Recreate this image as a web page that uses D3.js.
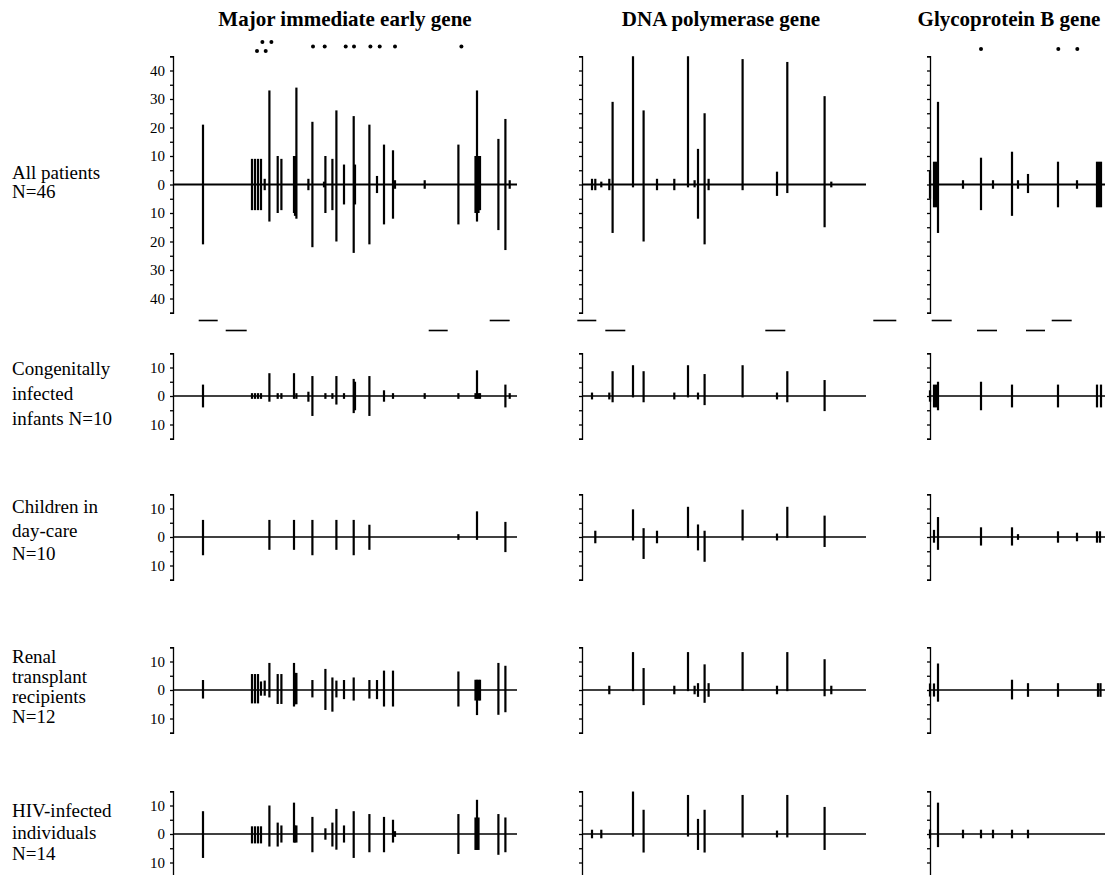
<!DOCTYPE html>
<html>
<head>
<meta charset="utf-8">
<script src="https://cdn.jsdelivr.net/npm/d3@7"></script>
<style>
  body { margin: 0; background: #fff; }
  svg { display: block; }
  text { font-family: 'Liberation Serif', 'Times New Roman', serif; fill: #000; }
  .axis path, .axis line { stroke: #000; stroke-width: 1.3px; }
  .axis text { font-family: 'Liberation Serif', serif; font-size: 15px; }
</style>
</head>
<body>
<div id="chart"></div>
<script>
/* eslint-disable */

// genes and groups
var geneNames = ['Major immediate early gene', 'DNA polymerase gene', 'Glycoprotein B gene']
var geneSpan = [344, 284, 175] // sequenced stretch, position units
var groupNames = [
  ['All patients', 'N=46'],
  ['Congenitally', 'infected', 'infants N=10'],
  ['Children in', 'day-care', 'N=10'],
  ['Renal', 'transplant', 'recipients', 'N=12'],
  ['HIV-infected', 'individuals', 'N=14']
]
var groupRange = [45, 15, 15, 15, 15]

// [position, count above, count below]
var mieAll = [[30, 21, 21], [79, 9, 9], [82, 9, 9], [85, 9, 9], [88, 9, 9], [91.7, 2, 2], [96.4, 33, 13],
  [104.7, 10, 10], [108.4, 9, 9], [121, 10, 10], [122, 10, 11], [123.4, 34, 12], [135.4, 2, 2], [139.4, 22, 22],
  [151, 1, 1], [152.4, 10, 10], [159.4, 9, 9], [163.4, 26, 20], [171, 7, 7], [180.7, 24, 24], [182, 7, 7],
  [196.4, 21, 21], [204, 3, 3], [211, 14, 14], [220, 12, 12], [222, 1.5, 1.5], [251.7, 1.5, 1.5], [285.4, 14, 14],
  [302.5, 10, 10], [304, 33, 13], [305.5, 10, 10], [307, 10, 9], [325.4, 16, 16], [332.4, 23, 23], [336.7, 1.5, 1.5]]
var mieCong = [[30, 4, 4], [79, 1, 1], [82, 1, 1], [85, 1, 1], [88, 1, 1], [96.4, 8, 2], [104.7, 1, 1], [108.4, 1, 1],
  [121, 8, 1], [123.4, 1, 1], [135.4, 1.5, 2], [139.4, 7, 7], [152.4, 1, 1], [159.4, 1, 1], [163.4, 7, 3], [171, 1, 1],
  [180.7, 6, 6], [182, 5, 5], [196.4, 7, 7], [211, 2, 2], [220, 1, 1], [251.7, 1, 1], [285.4, 1, 1], [302.5, 1, 1],
  [304, 9, 1], [305.5, 1, 1], [307, 1, 1], [332.4, 4, 4], [336.7, 1, 1]]
var mieDay = [[30, 6, 6.4], [96.4, 6, 4.5], [121, 6, 4.5], [139.4, 6, 6.4], [163.4, 6, 4.5], [180.7, 6, 6.4],
  [196.4, 4.3, 4.5], [285.4, 1, 1], [304, 9, 1], [332.4, 5.3, 5.3]]
var mieRenal = [[30, 3.5, 3], [79, 5.6, 4.7], [82, 5.6, 4.7], [85, 5.6, 4.7], [88, 3, 2], [91.7, 3.3, 2], [96.4, 9.5, 2.6],
  [104.7, 5.6, 4.9], [108.4, 5.6, 4.9], [121, 9.5, 5.8], [122, 6, 5], [123.4, 6, 5], [139.4, 3.5, 2.6], [152.4, 7.4, 7],
  [159.4, 4.4, 7.6], [163.4, 3.3, 2.6], [171, 3.5, 3.2], [180.7, 4.4, 3.7], [196.4, 3.5, 3], [204, 3.5, 3.2],
  [211, 6.8, 5.8], [220, 6.8, 5.8], [285.4, 6.5, 5.8], [302.5, 3.6, 3.7], [304, 3.6, 8.8], [305.5, 3.6, 3.7],
  [307, 3.6, 3.7], [325.4, 9.5, 8.7], [332.4, 8.5, 7.8]]
var mieHiv = [[30, 8, 8.4], [79, 2.7, 3.3], [82, 2.7, 3.3], [85, 2.7, 3.3], [88, 2.7, 3.3], [96.4, 10, 4.4], [104.7, 4, 4.4],
  [108.4, 3, 3], [121, 11, 3], [122, 3, 3], [123.4, 3, 3], [139.4, 6, 6.4], [152.4, 2, 2], [159.4, 4, 4.4],
  [163.4, 8.8, 5.5], [171, 3, 3], [180.7, 8, 8.4], [196.4, 7, 6.4], [211, 6, 6.4], [220, 5, 3], [222, 1, 1],
  [285.4, 7, 7], [302.5, 5.8, 5.6], [304, 12, 5.6], [305.5, 5.8, 5.6], [325.4, 7, 7.3], [332.4, 5.8, 6.4]]

var dnaAll = [[10, 2, 2], [13.3, 2, 2], [19.3, 1, 1], [27.3, 2, 2], [30.6, 29, 17], [51, 45, 1], [61.6, 26, 20], [75, 2, 2],
  [92.3, 2, 2], [106, 45, 1], [112.6, 1.5, 1], [116, 12.5, 12], [122.6, 25, 21], [126.6, 2, 2], [160.6, 44, 2],
  [195, 4.5, 4], [205.3, 43, 3], [242.6, 31, 15], [249.3, 1, 1]]
var dnaCong = [[10, 1.2, 1.2], [27.3, 1.2, 1.2], [30.6, 8.7, 2.2], [51, 10.8, 0.5], [61.6, 8.7, 2.2], [92.3, 1.2, 1.2],
  [106, 10.8, 0.5], [116, 1.2, 1.2], [122.6, 7.7, 3.2], [160.6, 10.8, 0.5], [195, 1.2, 1.2], [205.3, 8.7, 2.2],
  [242.6, 5.6, 5.3]]
var dnaDay = [[13.3, 2.2, 2.2], [51, 9.7, 1.2], [61.6, 3.1, 7.7], [75, 2.2, 2.2], [106, 10.6, 0.3], [116, 4.4, 4.7],
  [122.6, 2.2, 8.7], [160.6, 9.6, 1.2], [195, 1.2, 1.2], [205.3, 10.6, 0.3], [242.6, 7.5, 3.5]]
var dnaRenal = [[27.3, 1.5, 1.5], [51, 13.3, 0.4], [61.6, 7.7, 5.3], [92.3, 1.5, 1.5], [106, 13.3, 0.4], [112.6, 1.5, 1.5],
  [116, 2.4, 2.4], [122.6, 9, 4.5], [126.6, 2.4, 2.4], [160.6, 13.3, 0.3], [195, 1.5, 1.5], [205.3, 13.3, 0.4],
  [242.6, 10.8, 2.2], [249.3, 1.5, 1.5]]
var dnaHiv = [[10, 1.5, 1.5], [19.3, 1.5, 1.5], [51, 14.9, 0.9], [61.6, 8.5, 6.5], [106, 13.7, 0.9], [116, 5.3, 5.6],
  [122.6, 8.5, 6.5], [160.6, 13.7, 1.2], [195, 1.2, 1.2], [205.3, 13.7, 1.2], [242.6, 9.5, 5.6]]

var gbAll = [[0, 5, 5], [4, 8, 8], [6, 8, 8], [8, 29, 17], [33, 1.5, 1.5], [51, 9.4, 9], [63, 1.5, 1.5], [82, 11.5, 11],
  [88, 1.5, 1.5], [98, 3.7, 3], [128, 8, 8], [147, 1.5, 1.5], [167, 8, 8], [169, 8, 8], [171, 8, 8]]
var gbCong = [[0, 2, 2], [4, 4, 4], [6, 4, 4], [8, 5, 5], [51, 5, 5], [82, 4, 4], [128, 4, 4], [167, 4, 4], [171, 4, 4]]
var gbDay = [[4, 2.5, 2], [8, 7, 4.5], [51, 3.4, 3], [82, 3.4, 3], [88, 1, 1], [128, 2, 2], [147, 1.5, 1.5],
  [167, 2, 2], [170, 2, 2]]
var gbRenal = [[0, 2.3, 2.3], [4, 2.3, 2.3], [8, 9.3, 4.1], [82, 3.6, 3.3], [98, 2.4, 2.4], [128, 2.4, 2.4],
  [168, 2.4, 2.4], [170.5, 2.4, 2.4]]
var gbHiv = [[0, 1.6, 1.6], [8, 11, 4.6], [33, 1.5, 1.5], [51, 1.5, 1.5], [63, 1.5, 1.5], [82, 1.5, 1.5], [98, 1.5, 1.5]]

// markers above the top panel: [position, stack row]
var mieDots = [[84, -1], [92.7, -1], [89.4, 1], [98.4, 1], [140, 0], [151.7, 0], [172.7, 0], [181, 0],
  [197.4, 0], [206.7, 0], [222, 0], [288.4, 0]]
var dnaDots = []
var gbDots = [[51, 0], [128.3, 0], [147.3, 0]]

// short bars below the top panel: [from, to, upper?]
var mieSpans = [[25.7, 44.7, 1], [52.7, 73.7, 0], [255.7, 274.7, 0], [316.7, 336.7, 1]]
var dnaSpans = [[-4.7, 14.3, 1], [23.3, 43.3, 0], [183.3, 203.3, 0], [291.3, 314.3, 1]]
var gbSpans = [[1.7, 21.7, 1], [47, 67, 0], [96, 115, 0], [121.7, 141.7, 1]]

var table = [
  [mieAll, dnaAll, gbAll],
  [mieCong, dnaCong, gbCong],
  [mieDay, dnaDay, gbDay],
  [mieRenal, dnaRenal, gbRenal],
  [mieHiv, dnaHiv, gbHiv]
]
var dots = [mieDots, dnaDots, gbDots]
var spans = [mieSpans, dnaSpans, gbSpans]

// layout
var width = 1113
var height = 875
var geneX = [173, 582, 930]
var titleX = [345, 721, 1009]
var rowZero = [184.5, 396, 537, 690, 834]
var pxPerUnit = 2.85
var labelBase = [[179, 198], [375, 400, 425], [513, 537, 560], [663, 683, 703, 723], [817, 839, 860]]

var svg = d3.select('#chart').append('svg')
  .attr('width', width)
  .attr('height', height)

// 标题
svg.selectAll('.title')
  .data(geneNames)
  .enter().append('text')
  .attr('class', 'title')
  .attr('x', function (d, i) { return titleX[i] })
  .attr('y', 26)
  .attr('text-anchor', 'middle')
  .style('font-weight', 'bold')
  .style('font-size', '21px')
  .text(function (d) { return d })

// 行标签
groupNames.forEach(function (lines, r) {
  var t = svg.append('text')
    .attr('x', 12)
    .style('font-size', '19px')
  t.selectAll('tspan')
    .data(lines)
    .enter().append('tspan')
    .attr('x', 12)
    .attr('y', function (d, i) { return labelBase[r][i] })
    .text(function (d) { return d })
})

var x = geneSpan.map(function (len, gi) {
  return d3.scaleLinear().domain([0, len]).range([geneX[gi], geneX[gi] + len])
})

table.forEach(function (rowData, r) {
  var R = groupRange[r]
  var y = d3.scaleLinear()
    .domain([-R, R])
    .range([rowZero[r] + R * pxPerUnit, rowZero[r] - R * pxPerUnit])

  rowData.forEach(function (data, gi) {
    var g = svg.append('g')

    g.append('line')
      .attr('x1', x[gi](0))
      .attr('x2', x[gi](geneSpan[gi]))
      .attr('y1', y(0))
      .attr('y2', y(0))
      .style('stroke', '#000')
      .style('stroke-width', r == 0 ? 1.8 : 1.5)

    g.selectAll('rect')
      .data(data)
      .enter().append('rect')
      .attr('x', function (d) { return x[gi](d[0]) - 1.1 })
      .attr('width', 2.2)
      .attr('y', function (d) { return y(d[1]) })
      .attr('height', function (d) { return y(-d[2]) - y(d[1]) })
      .style('fill', '#000')

    var axis = d3.axisLeft(y)
      .tickValues(d3.range(-R, R + 1, 5))
      .tickSize(3)
      .tickSizeOuter(3)
      .tickPadding(5)
      .tickFormat(function (d) {
        return (gi == 0 && d % 10 == 0) ? Math.abs(d) : ''
      })

    g.append('g')
      .attr('class', 'axis')
      .attr('transform', 'translate(' + x[gi](0) + ',0)')
      .call(axis)
      .call(function (s) { s.selectAll('text').attr('fill', '#000') })

    if (r == 0) {
      g.selectAll('circle')
        .data(dots[gi])
        .enter().append('circle')
        .attr('cx', function (d) { return x[gi](d[0]) })
        .attr('cy', function (d) { return (gi == 2 ? 49 : 46.5) - d[1] * 4.6 })
        .attr('r', 2)
        .style('fill', '#000')

      g.selectAll('.span')
        .data(spans[gi])
        .enter().append('line')
        .attr('class', 'span')
        .attr('x1', function (d) { return x[gi](d[0]) })
        .attr('x2', function (d) { return x[gi](d[1]) })
        .attr('y1', function (d) { return d[2] ? 320.5 : 330.5 })
        .attr('y2', function (d) { return d[2] ? 320.5 : 330.5 })
        .style('stroke', '#000')
        .style('stroke-width', 1.6)
    }
  })
})
</script>
</body>
</html>
